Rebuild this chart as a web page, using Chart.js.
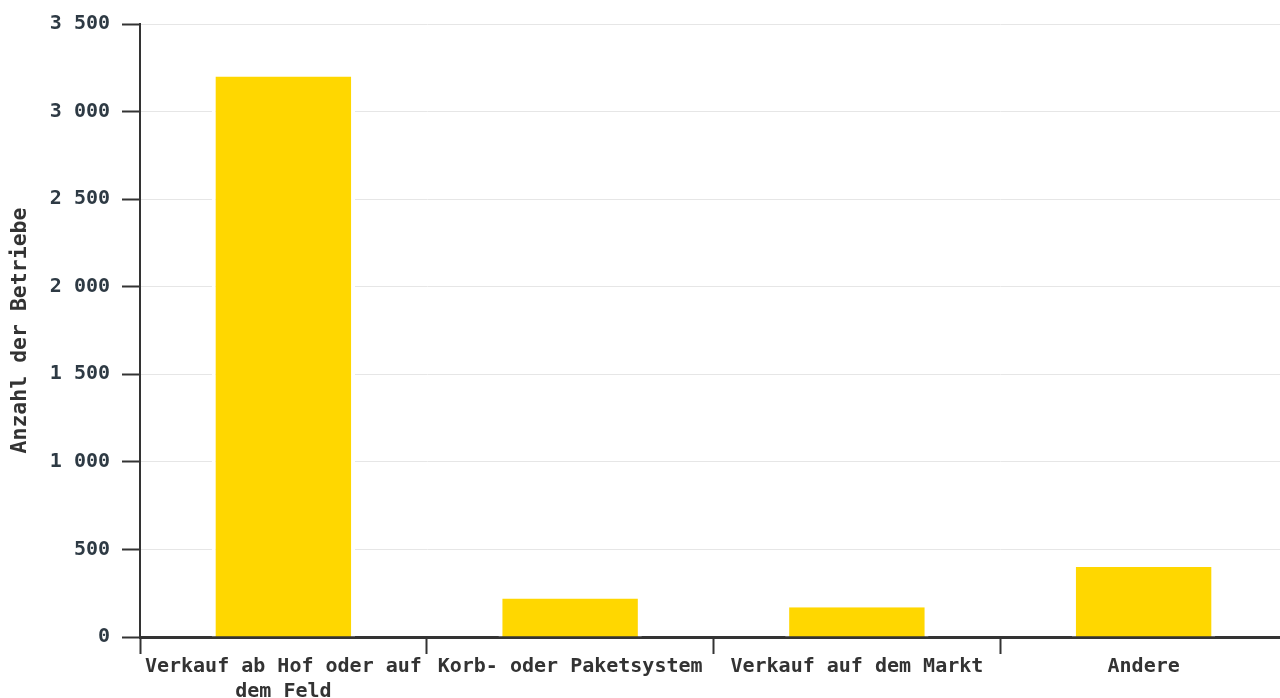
<!DOCTYPE html>
<html>
<head>
<meta charset="utf-8">
<script src="https://cdn.jsdelivr.net/npm/chart.js@4"></script>
<style>
    html, body { margin: 0; padding: 0; background: #fff; overflow: hidden; }
    #wrap { position: relative; width: 1287px; height: 698px; }
</style>
</head>
<body>
<div id="wrap"><canvas id="salesChart"></canvas></div>
<script>
// Categories (first one wraps over two lines)
const categories = [
    ['Verkauf ab Hof oder auf', 'dem Feld'],
    'Korb- oder Paketsystem',
    'Verkauf auf dem Markt',
    'Andere'
];

// Number of farms per sales channel
const farmCounts = [3200, 220, 170, 400];

// Y axis
const yMax = 3500;
const yStep = 500;
const yTitle = 'Anzahl der Betriebe';

const FONT = "'DejaVu Sans Mono', monospace";
const INK = '#333';
const TICK_INK = '#2e3a44';

// Format thousands with a space: 3 500
function fmt(v) {
    return String(v).replace(/\B(?=(\d{3})+(?!\d))/g, ' ');
}

const ctx = document.getElementById('salesChart');
new Chart(ctx, {
    type: 'bar',
    data: {
        labels: categories,
        datasets: [{
            data: farmCounts,
            backgroundColor: '#FFD700',
            borderColor: '#ffffff',
            borderWidth: { left: 4, right: 4, top: 0, bottom: 0 },
            borderSkipped: false,
            barPercentage: 0.5,
            categoryPercentage: 1.0
        }]
    },
    options: {
        responsive: true,
        maintainAspectRatio: false,
        animation: false,
        layout: { padding: { top: 24, right: 0, bottom: 0, left: 0 } },
        plugins: {
            legend: { display: false },
            tooltip: { enabled: false }
        },
        scales: {
            x: {
                offset: true,
                grid: {
                    offset: true,
                    drawOnChartArea: false,
                    tickLength: 17,
                    tickColor: INK,
                    tickWidth: 2
                },
                border: { color: INK, width: 3 },
                ticks: {
                    color: INK,
                    padding: 0,
                    maxRotation: 0,
                    autoSkip: false,
                    font: { family: FONT, size: 20, weight: 'bold', lineHeight: 1.25 }
                },
                afterFit(scale) { scale.height = 61; }
            },
            y: {
                min: 0,
                max: yMax,
                grid: {
                    color: '#e6e6e6',
                    lineWidth: 1,
                    tickLength: 18,
                    tickColor: INK,
                    tickWidth: 2
                },
                border: { color: INK, width: 2 },
                ticks: {
                    stepSize: yStep,
                    color: TICK_INK,
                    padding: 12,
                    font: { family: FONT, size: 20, weight: 'bold' },
                    callback: (v) => fmt(v)
                },
                title: {
                    display: true,
                    text: yTitle,
                    color: INK,
                    padding: { top: 8, bottom: 0 },
                    font: { family: FONT, size: 21.5, weight: 'bold' }
                },
                afterFit(scale) { scale.width = 140; }
            }
        }
    }
});
</script>
</body>
</html>
